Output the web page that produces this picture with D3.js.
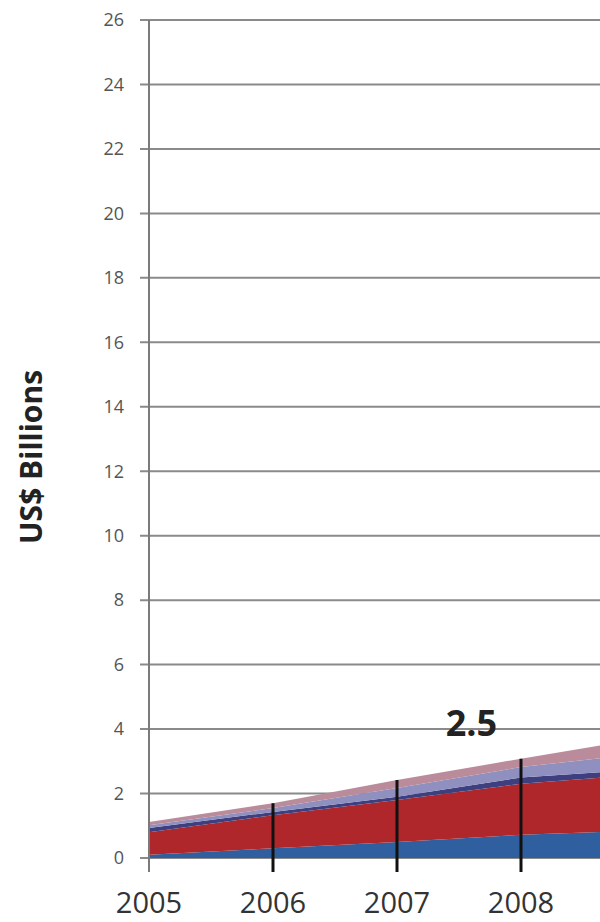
<!DOCTYPE html>
<html><head><meta charset="utf-8">
<script src="https://cdn.jsdelivr.net/npm/d3@7"></script>
<style>body{margin:0;background:#fff}svg{display:block}</style>
</head><body><svg id="c" width="600" height="922"></svg>
<script>
const years = [2005, 2006, 2007, 2008, 2009];
const seriesNames = ["blue", "red", "navy", "lavender", "rose"];
const blueVals = [0.1, 0.3, 0.5, 0.72, 0.85];
const redVals = [0.7, 1.03, 1.3, 1.58, 1.75];
const navyVals = [0.13, 0.1, 0.1, 0.2, 0.15];
const lavenderVals = [0.09, 0.12, 0.27, 0.32, 0.5];
const roseVals = [0.1, 0.15, 0.25, 0.26, 0.48];
const yTicks = [0,2,4,6,8,10,12,14,16,18,20,22,24,26];
const xTickYears = [2005, 2006, 2007, 2008, 2009];
const xLabelYears = [2005, 2006, 2007, 2008];
const dropYears = [2006, 2007, 2008];
const annotation = {text: "2.5", year: 2007.6, value: 3.8};
const colors = {blue:"#2f5f9e", red:"#b0272b", navy:"#3e3f7e", lavender:"#8f90bf", rose:"#b98b9b"};

const rows = years.map((yr,i)=>({year:yr, blue:blueVals[i], red:redVals[i], navy:navyVals[i], lavender:lavenderVals[i], rose:roseVals[i]}));

const svg = d3.select("#c");
const x = d3.scaleLinear().domain([2005, 2006]).range([149, 273]);
const y = d3.scaleLinear().domain([0, 26]).range([858, 20]);

// gridlines
svg.append("g").selectAll("line").data(yTicks).join("line")
  .attr("x1", 140).attr("x2", 600)
  .attr("y1", d=>y(d)).attr("y2", d=>y(d))
  .attr("stroke", "#8a8a8a").attr("stroke-width", 2);

// y tick labels
svg.append("g").selectAll("text").data(yTicks).join("text")
  .attr("x", 124).attr("y", d=>y(d)).attr("dy", "0.35em")
  .attr("text-anchor", "end")
  .attr("font-family", "Open Sans, sans-serif").attr("font-size", 18)
  .attr("fill", "#555").text(d=>d);

// stacked areas
const stack = d3.stack().keys(seriesNames);
const layers = stack(rows);
const area = d3.area().x(d=>x(d.data.year)).y0(d=>y(d[0])).y1(d=>y(d[1]));
svg.append("g").selectAll("path").data(layers).join("path")
  .attr("d", area).attr("fill", d=>colors[d.key]);

// y axis line
svg.append("line").attr("x1",149).attr("x2",149).attr("y1",y(26)).attr("y2",872)
  .attr("stroke","#7a7a7a").attr("stroke-width",2);

// x tick marks
svg.append("g").selectAll("line").data(xTickYears).join("line")
  .attr("x1", d=>x(d)).attr("x2", d=>x(d)).attr("y1", 858).attr("y2", 872)
  .attr("stroke", "#7a7a7a").attr("stroke-width", 2);

// drop lines
const totals = rows.map(r=>seriesNames.reduce((s,k)=>s+r[k],0));
svg.append("g").selectAll("line").data(dropYears).join("line")
  .attr("x1", d=>x(d)).attr("x2", d=>x(d))
  .attr("y1", d=>y(totals[years.indexOf(d)])).attr("y2", 872)
  .attr("stroke", "#111").attr("stroke-width", 3);

// x labels
svg.append("g").selectAll("text").data(xLabelYears).join("text")
  .attr("x", d=>x(d)).attr("y", 913).attr("text-anchor","middle")
  .attr("font-family", "Open Sans, sans-serif").attr("font-size", 29)
  .attr("fill", "#333").text(d=>d);

// annotation
svg.append("text").attr("x", x(annotation.year)).attr("y", y(annotation.value))
  .attr("text-anchor","middle").attr("font-family","Open Sans, sans-serif")
  .attr("font-weight","bold").attr("font-size",36).attr("fill","#222")
  .text(annotation.text);

// y title
svg.append("text").attr("transform","translate(42,457) rotate(-90)")
  .attr("text-anchor","middle").attr("font-family","Open Sans, sans-serif")
  .attr("font-weight","bold").attr("font-size",30).attr("fill","#222")
  .text("US$ Billions");
</script></body></html>
